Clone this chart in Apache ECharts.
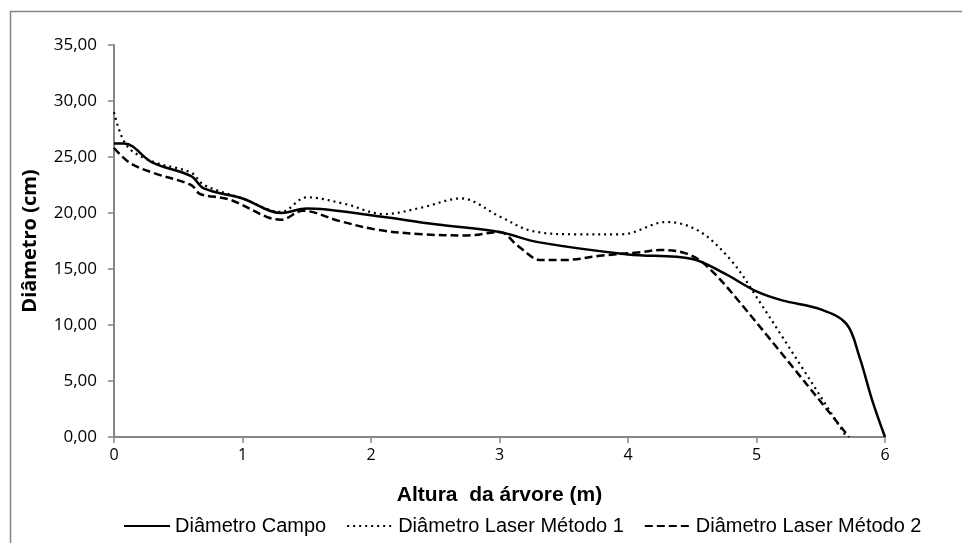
<!DOCTYPE html>
<html>
<head>
<meta charset="utf-8">
<script src="https://cdn.jsdelivr.net/npm/echarts@6/dist/echarts.min.js"></script>
<style>
    html, body { margin: 0; padding: 0; background: #fff; }
    #chart { width: 962px; height: 543px; }
</style>
</head>
<body>
<div id="chart"></div>
<script>
"use strict"

// Diâmetro Campo
let xCampo = [0, 0.08, 0.3, 0.6, 0.7, 1.0, 1.3, 1.5, 2.0, 2.5, 3.0, 3.3, 4.0, 4.5, 4.75, 5.0, 5.2, 5.5, 5.7, 5.8, 5.9, 6.0];
let yCampo = [26.2, 26.2, 24.5, 23.3, 22.2, 21.3, 20.0, 20.4, 19.8, 19.0, 18.3, 17.4, 16.3, 15.9, 14.6, 13.0, 12.2, 11.4, 10.1, 7.2, 3.3, 0];
// Diâmetro Laser Método 1
let xMetodo1 = [0, 0.1, 0.3, 0.6, 0.7, 1.0, 1.3, 1.5, 1.8, 2.1, 2.4, 2.7, 3.0, 3.25, 3.6, 3.95, 4.3, 4.55, 4.8, 5.0, 5.7];
let yMetodo1 = [29.0, 26.0, 24.6, 23.6, 22.5, 21.3, 20.1, 21.4, 20.8, 19.9, 20.5, 21.3, 19.7, 18.4, 18.1, 18.1, 19.2, 18.4, 15.8, 12.5, 0];
// Diâmetro Laser Método 2
let xMetodo2 = [0, 0.12, 0.3, 0.6, 0.67, 0.9, 1.2, 1.3, 1.47, 1.75, 2.05, 2.4, 2.75, 3.0, 3.15, 3.32, 3.5, 3.8, 4.1, 4.25, 4.45, 4.6, 4.85, 5.72];
let yMetodo2 = [25.8, 24.5, 23.6, 22.5, 21.7, 21.2, 19.6, 19.4, 20.2, 19.3, 18.5, 18.1, 18.0, 18.3, 17.0, 15.8, 15.8, 16.2, 16.5, 16.7, 16.4, 15.4, 12.3, 0];

let xTicks = [0, 1, 2, 3, 4, 5, 6];
let yTicks = [0, 5, 10, 15, 20, 25, 30, 35];

function pares(xs, ys) {
    return xs.map(function (x, i) { return [x, ys[i]]; });
}

var myChart = echarts.init(document.getElementById("chart"));
var eixoCor = "#868686";
var option = {
    animation: false,
    backgroundColor: "#fff",
    // moldura da área do gráfico
    graphic: [{
        type: "rect",
        shape: { x: 10.5, y: 11.5, width: 1000, height: 600 },
        style: { fill: "none", stroke: eixoCor, lineWidth: 1.5 },
        silent: true
    }],
    grid: { left: 114, right: 77, top: 45, bottom: 106 },
    legend: {
        bottom: 2,
        left: 118,
        itemWidth: 46,
        itemHeight: 10,
        itemGap: 20,
        itemStyle: { opacity: 0 },
        textStyle: { fontFamily: "Liberation Sans", fontSize: 20, color: "#000" },
        data: ["Diâmetro Campo", "Diâmetro Laser Método 1", "Diâmetro Laser Método 2"]
    },
    xAxis: {
        type: "value",
        min: xTicks[0],
        max: xTicks[xTicks.length - 1],
        interval: 1,
        name: "Altura  da árvore (m)",
        nameLocation: "middle",
        nameGap: 48,
        nameTextStyle: { fontFamily: "Liberation Sans", fontWeight: "bold", fontSize: 21, color: "#000" },
        axisLine: { lineStyle: { color: eixoCor, width: 2 } },
        axisTick: { show: true, length: 6, lineStyle: { color: eixoCor, width: 1.5 } },
        axisLabel: { fontFamily: "Open Sans", fontSize: 16, color: "#000", margin: 10 },
        splitLine: { show: false }
    },
    yAxis: {
        type: "value",
        min: yTicks[0],
        max: yTicks[yTicks.length - 1],
        interval: 5,
        name: "Diâmetro (cm)",
        nameLocation: "middle",
        nameGap: 74,
        nameTextStyle: { fontFamily: "Open Sans", fontWeight: "bold", fontSize: 20, color: "#000" },
        axisLine: { show: true, lineStyle: { color: eixoCor, width: 2 } },
        axisTick: { show: true, inside: false, length: 6, lineStyle: { color: eixoCor, width: 1.5 } },
        axisLabel: {
            fontFamily: "Open Sans", fontSize: 17, color: "#000", margin: 17,
            formatter: function (v) { return v.toFixed(2).replace(".", ","); }
        },
        splitLine: { show: false }
    },
    series: [{
        name: "Diâmetro Campo",
        type: "line",
        smooth: 0.35,
        symbol: "none",
        color: "#000",
        lineStyle: { color: "#000", width: 2.5, type: "solid" },
        data: pares(xCampo, yCampo)
    }, {
        name: "Diâmetro Laser Método 1",
        type: "line",
        smooth: 0.35,
        symbol: "none",
        color: "#000",
        lineStyle: { color: "#000", width: 2.2, type: [2, 4] },
        data: pares(xMetodo1, yMetodo1)
    }, {
        name: "Diâmetro Laser Método 2",
        type: "line",
        smooth: 0.35,
        symbol: "none",
        color: "#000",
        lineStyle: { color: "#000", width: 2.5, type: [8, 4] },
        data: pares(xMetodo2, yMetodo2)
    }]
};
myChart.setOption(option);
</script>
</body>
</html>
